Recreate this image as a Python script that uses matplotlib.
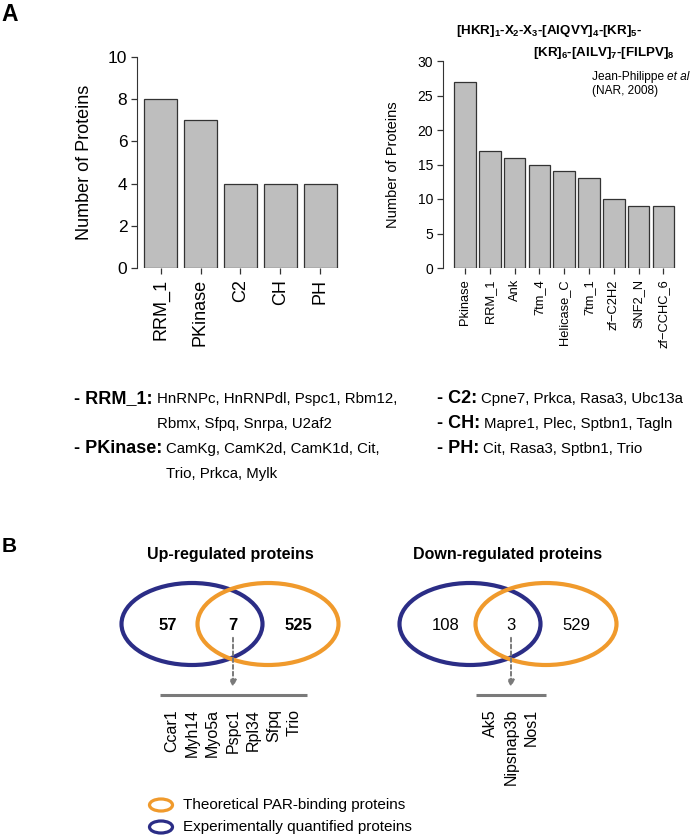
import matplotlib
matplotlib.use("Agg")
import matplotlib.pyplot as plt
from matplotlib.patches import Ellipse
import numpy as np

plt.rcParams['font.family'] = ['Liberation Sans', 'DejaVu Sans']
plt.rcParams['mathtext.fontset'] = 'custom'
plt.rcParams['mathtext.rm'] = 'Liberation Sans:bold'
plt.rcParams['mathtext.it'] = 'Liberation Sans:bold'
plt.rcParams['mathtext.bf'] = 'Liberation Sans:bold'

# data
left_domains = ['RRM_1', 'PKinase', 'C2', 'CH', 'PH']
left_counts = [8, 7, 4, 4, 4]

right_domains = ['Pkinase', 'RRM_1', 'Ank', '7tm_4', 'Helicase_C', '7tm_1',
                 'zf\u2212C2H2', 'SNF2_N', 'zf\u2212CCHC_6']
right_counts = [27, 17, 16, 15, 14, 13, 10, 9, 9]

up_counts = [57, 7, 525]
down_counts = [108, 3, 529]
up_genes = ['Ccar1', 'Myh14', 'Myo5a', 'Pspc1', 'Rpl34', 'Sfpq', 'Trio']
down_genes = ['Ak5', 'Nipsnap3b', 'Nos1']

left_col_heads = ['- RRM_1:', None, '- PKinase:', None]
left_col_text = ['HnRNPc, HnRNPdl, Pspc1, Rbm12,', 'Rbmx, Sfpq, Snrpa, U2af2',
                 'CamKg, CamK2d, CamK1d, Cit,', 'Trio, Prkca, Mylk']
right_col_heads = ['- C2:', '- CH:', '- PH:']
right_col_text = ['Cpne7, Prkca, Rasa3, Ubc13a', 'Mapre1, Plec, Sptbn1, Tagln',
                  'Cit, Rasa3, Sptbn1, Trio']

W, H = 700, 836
BLUE = '#2b2d86'
ORANGE = '#f09a2c'
GREY_BAR = '#bebebe'
ARROW = '#7a7a7a'

fig = plt.figure(figsize=(W / 100, H / 100), dpi=100)


def box(x0, y0, x1, y1):
    # pixel box (top-left origin) -> figure fraction
    return [x0 / W, 1 - y1 / H, (x1 - x0) / W, (y1 - y0) / H]


def style_bar_axes(ax, ymax, step, fs_tick, fs_x):
    for s in ['top', 'right', 'bottom']:
        ax.spines[s].set_visible(False)
    ax.spines['left'].set_bounds(0, ymax)
    ax.spines['left'].set_color('#333333')
    ax.set_ylim(0, ymax)
    ax.set_yticks(np.arange(0, ymax + 1, step))
    ax.tick_params(axis='y', length=4, width=0.9, colors='#333333',
                   labelsize=fs_tick, labelcolor='black', pad=3)
    ax.tick_params(axis='x', length=4, width=0.9, colors='#333333',
                   labelsize=fs_x, labelcolor='black', pad=4)
    ax.patch.set_alpha(0)


# left bar chart
axL = fig.add_axes(box(137, 57, 340, 268))
xl = np.arange(len(left_domains))
axL.bar(xl, left_counts, width=0.825, color=GREY_BAR, edgecolor='#333333', linewidth=0.9)
axL.set_xlim(-0.5875, 4.4875)
style_bar_axes(axL, 10, 2, 12.5, 13)
axL.set_xticks(xl)
axL.set_xticklabels(left_domains, rotation=90)
axL.set_ylabel('Number of Proteins', fontsize=13)
axL.yaxis.set_label_coords(-0.215, 0.5)

# right bar chart
axR = fig.add_axes(box(443, 61, 680, 268))
xr = np.arange(len(right_domains))
axR.bar(xr, right_counts, width=0.87, color=GREY_BAR, edgecolor='#333333', linewidth=0.9)
axR.set_xlim(-0.89, 8.67)
style_bar_axes(axR, 30, 5, 10, 9.3)
axR.set_xticks(xr)
axR.set_xticklabels(right_domains, rotation=90)
axR.set_ylabel('Number of Proteins', fontsize=10.5)
axR.yaxis.set_label_coords(-0.18, 0.5)

# overlay in pixel coordinates
ax = fig.add_axes([0, 0, 1, 1], zorder=-1)
ax.set_xlim(0, W)
ax.set_ylim(H, 0)
ax.axis('off')

ax.text(1, 21, 'A', fontsize=16.5, fontweight='bold', va='baseline', ha='left')
ax.text(2, 552, 'B', fontsize=15, fontweight='bold', va='baseline', ha='left')

# motif title
ax.text(456, 34, r'$[HKR]_1\text{-}X_2\text{-}X_3\text{-}[AIQVY]_4\text{-}[KR]_5\text{-}$',
        fontsize=9.6, ha='left', va='baseline')
ax.text(675, 56, r'$[KR]_6\text{-}[AILV]_7\text{-}[FILPV]_8$',
        fontsize=9.6, ha='right', va='baseline')

renderer = fig.canvas.get_renderer()
t1 = ax.text(592, 80, 'Jean-Philippe ', fontsize=8.6, ha='left', va='baseline')
bb = t1.get_window_extent(renderer)
ax.text(bb.x1, 80, 'et al', fontsize=8.6, style='italic', ha='left', va='baseline',
        transform=None)
ax.texts[-1].set_transform(matplotlib.transforms.blended_transform_factory(
    matplotlib.transforms.IdentityTransform(), ax.transData))
ax.text(592, 94, '(NAR, 2008)', fontsize=8.6, ha='left', va='baseline')

# domain member lists
rows = [403, 428, 453, 478]


def write_list(x_head, heads, texts, ys):
    x_txt = None
    for head, txt, y in zip(heads, texts, ys):
        if head is not None:
            th = ax.text(x_head, y, head, fontsize=13, fontweight='bold',
                         ha='left', va='baseline')
            ext = th.get_window_extent(renderer)
            x_txt = ax.transData.inverted().transform((ext.x1, 0))[0] + 4
        ax.text(x_txt, y, txt, fontsize=10.8, ha='left', va='baseline')


write_list(74, left_col_heads, left_col_text, rows)
write_list(437, right_col_heads, right_col_text, rows[:3])


# Venn diagrams
def venn(cx_blue, cx_orange, cy, counts, title, genes, line_x0, line_x1, weight):
    ax.add_patch(Ellipse((cx_blue, cy), 141, 82, fill=False, edgecolor=BLUE, linewidth=3))
    ax.add_patch(Ellipse((cx_orange, cy), 141, 82, fill=False, edgecolor=ORANGE, linewidth=3))
    xmid = (cx_blue + cx_orange) / 2 + 3
    ax.text((cx_blue + cx_orange) / 2, 559, title, fontsize=11.5, fontweight='bold',
            ha='center', va='baseline')
    xs = [cx_blue - 24, xmid, cx_orange + 30]
    for x, c in zip(xs, counts):
        ax.text(x, 630, str(c), fontsize=12, fontweight=weight, ha='center', va='baseline')
    ax.annotate('', xy=(xmid, 690), xytext=(xmid, 635),
                arrowprops=dict(arrowstyle='-|>', color=ARROW, lw=1.4,
                                linestyle=(0, (2, 1.5)), mutation_scale=10))
    ax.plot([line_x0, line_x1], [695, 695], color=ARROW, lw=2.2, solid_capstyle='butt')
    n = len(genes)
    for i, g in enumerate(genes):
        ax.text(xmid + (i - (n - 1) / 2) * 20.3, 709, g, fontsize=11.5, rotation=90,
                ha='center', va='top')


venn(192, 268, 624, up_counts, 'Up-regulated proteins', up_genes, 160, 307, 'bold')
venn(470, 546, 624, down_counts, 'Down-regulated proteins', down_genes, 476, 546, 'normal')

# legend
ax.add_patch(Ellipse((161, 805), 23, 12, fill=False, edgecolor=ORANGE, linewidth=2.3))
ax.add_patch(Ellipse((161, 827), 23, 12, fill=False, edgecolor=BLUE, linewidth=2.3))
ax.text(183, 809, 'Theoretical PAR-binding proteins', fontsize=11, ha='left', va='baseline')
ax.text(183, 831, 'Experimentally quantified proteins', fontsize=11, ha='left', va='baseline')

fig.savefig('out.png', dpi=100)
